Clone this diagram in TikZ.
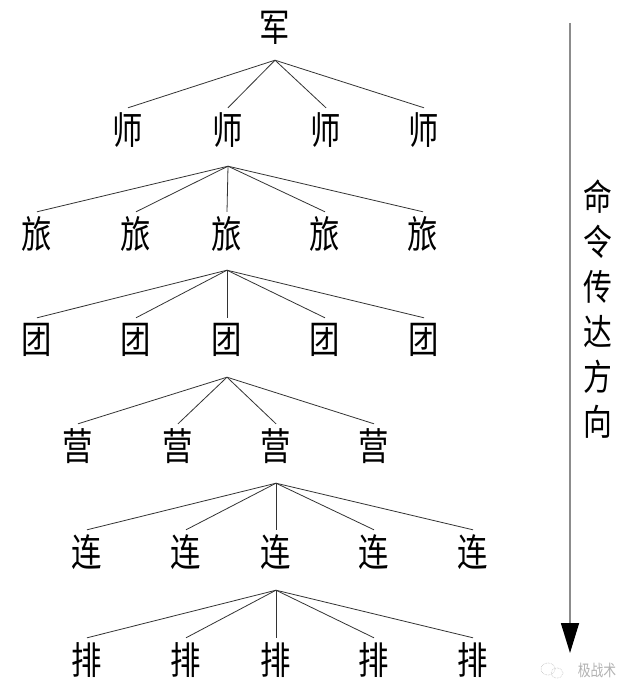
\documentclass[tikz,border=0pt]{standalone}
\usepackage{fontspec}
\newfontfamily\cjk[FakeStretch=0.8]{Noto Sans CJK SC}
\usetikzlibrary{arrows.meta,positioning}
\begin{document}
\begin{tikzpicture}[x=1pt,y=-1pt,
  unit/.style={inner sep=0pt,minimum height=44pt,minimum width=36pt,
    font=\cjk\fontsize{38}{38}\selectfont,text=black},
  link/.style={draw=black!80,line width=0.8pt},
  dirarrow/.style={draw=black!45,line width=1.6pt,
    -{Triangle[length=30pt,width=18pt,color=black]}}]
\useasboundingbox[fill=white] (0,0) rectangle (640,695);
% level 0
\node[unit] (J) at (275,28) {军};
% level 1
\node[unit] (S1) at (128,130) {师};
\node[unit] (S2) at (228,130) {师};
\node[unit] (S3) at (326,130) {师};
\node[unit] (S4) at (424,130) {师};
% level 2
\node[unit] (L1) at (37,234) {旅};
\node[unit] (L2) at (136,234) {旅};
\node[unit] (L3) at (227,234) {旅};
\node[unit] (L4) at (325,234) {旅};
\node[unit] (L5) at (423,234) {旅};
% level 3
\node[unit] (T1) at (37,340) {团};
\node[unit] (T2) at (136,340) {团};
\node[unit] (T3) at (227,340) {团};
\node[unit] (T4) at (325,340) {团};
\node[unit] (T5) at (424,340) {团};
% level 4
\node[unit] (Y1) at (78,446) {营};
\node[unit] (Y2) at (178,446) {营};
\node[unit] (Y3) at (276,446) {营};
\node[unit] (Y4) at (374,446) {营};
% level 5
\node[unit] (C1) at (87,552) {连};
\node[unit] (C2) at (186,552) {连};
\node[unit] (C3) at (276,552) {连};
\node[unit] (C4) at (374,552) {连};
\node[unit] (C5) at (473,552) {连};
% level 6
\node[unit] (P1) at (87,660) {排};
\node[unit] (P2) at (186,660) {排};
\node[unit] (P3) at (276,660) {排};
\node[unit] (P4) at (374,660) {排};
\node[unit] (P5) at (473,660) {排};
% apexes
\coordinate (aJ) at ([yshift=-10pt]J.south);
\coordinate (aS) at ([yshift=-14pt]S2.south);
\coordinate (aL) at ([yshift=-14pt]L3.south);
\coordinate (aT) at ([yshift=-15pt]T3.south);
\coordinate (aY) at ([yshift=-15pt]Y3.south);
\coordinate (aC) at ([yshift=-16pt]C3.south);
% connectors
\foreach \n in {S1,S2,S3,S4} \draw[link] (aJ) -- (\n.north);
\foreach \n in {L1,L2,L3,L4,L5} \draw[link] (aS) -- (\n.north);
\foreach \n in {T1,T2,T3,T4,T5} \draw[link] (aL) -- (\n.north);
\foreach \n in {Y1,Y2,Y3,Y4} \draw[link] (aT) -- (\n.north);
\foreach \n in {C1,C2,C3,C4,C5} \draw[link] (aY) -- (\n.north);
\foreach \n in {P1,P2,P3,P4,P5} \draw[link] (aC) -- (\n.north);
% direction arrow
\coordinate (arrtop) at (570,23);
\coordinate (arrtip) at (570,653);
\draw[dirarrow] (arrtop) -- (arrtip);
\node[align=center,inner sep=0pt,font=\cjk\fontsize{36}{45}\selectfont] (dir) at (598,309) {命\\令\\传\\达\\方\\向};
% watermark
\node[inner sep=0pt,text=black!30,font=\cjk\fontsize{16}{16}\selectfont] (wm) at (597,670) {极战术};
\draw[black!25,line width=0.6pt,densely dotted] (548,669) ellipse (7pt and 6pt);
\draw[black!25,line width=0.6pt,densely dotted] (557,673) ellipse (6pt and 5pt);
\end{tikzpicture}
\end{document}
